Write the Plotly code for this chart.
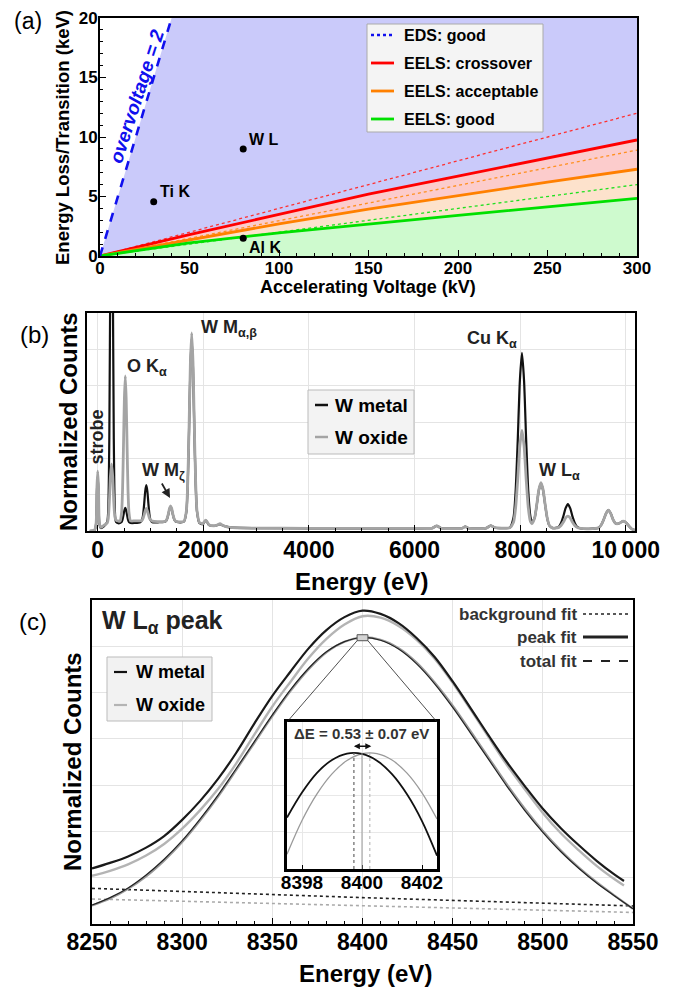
import plotly.graph_objects as go

FONT = "Liberation Sans, Arial, sans-serif"
# the page body adds an 8 px margin; the figure is shifted by that amount and fills the rest of the window
OFF = 8
W, H = 676 - OFF, 989 - OFF

# ---------------- (a) data ----------------
volt = [0, 50, 100, 150, 200, 250, 300]
eels_crossover = [0, 1.79, 3.5, 5.2, 6.72, 8.25, 9.75]
eels_acceptable = [0, 1.38, 2.7, 3.94, 5.1, 6.2, 7.29]
eels_good = [0, 1.1, 1.95, 2.7, 3.41, 4.13, 4.85]
volt_ref = [0, 300]
crossover_ref = [0, 12.0]
acceptable_ref = [0, 8.9]
good_ref = [0, 6.0]
over_v = [0, 40]
over_e = [0, 20]
pt_names = ["Ti K", "W L", "Al K"]
pt_v = [30, 80, 80]
pt_e = [4.55, 9.0, 1.5]

# ---------------- (b) data ----------------
E_b = [-150, -60, -30, -15, 0, 15, 30, 60, 110,
       180, 200, 220, 240, 262, 284, 304, 324, 345, 400,
       422, 452, 470, 487, 505, 522, 539, 557, 574, 592, 622, 700,
       805, 840, 860, 880, 900, 920, 940, 960, 980, 1000, 1035, 1150,
       1258, 1295, 1316, 1338, 1359, 1380, 1401, 1422, 1444, 1465, 1502, 1570,
       1635, 1680, 1705, 1730, 1755, 1780, 1805, 1830, 1855, 1880, 1925,
       1990, 2020, 2045, 2070, 2110, 2200, 2260, 2316, 2370, 2500,
       3000, 4000, 5000, 6000, 6330, 6420, 6510, 6900, 6960, 7030, 7360, 7440, 7530, 7700,
       7805, 7875, 7915, 7955, 7995, 8035, 8075, 8115, 8155, 8195, 8225,
       8275, 8315, 8355, 8395, 8435, 8475, 8515, 8555, 8620,
       8660, 8735, 8775, 8820, 8862, 8905, 8948, 8990, 9035, 9075, 9150,
       9300, 9490, 9535, 9582, 9627, 9672, 9717, 9762, 9807, 9850, 9900, 9950, 10000, 10060, 10120, 10180]
metal_b = [0.0, 0.02, 0.2, 1.1, 1.5, 1.1, 0.22, 0.08, 0.12,
           0.25, 0.6, 2.6, 7.5, 11.0, 7.5, 2.6, 0.6, 0.25, 0.21,
           0.22, 0.245, 0.31, 0.43, 0.57, 0.64, 0.57, 0.43, 0.31, 0.245, 0.22, 0.22,
           0.24, 0.30, 0.45, 0.75, 1.10, 1.26, 1.10, 0.75, 0.45, 0.30, 0.24, 0.24,
           0.25, 0.275, 0.34, 0.46, 0.60, 0.67, 0.60, 0.46, 0.34, 0.275, 0.25, 0.24,
           0.26, 0.54, 1.30, 2.77, 4.48, 5.29, 4.48, 2.77, 1.30, 0.54, 0.22,
           0.19, 0.25, 0.29, 0.25, 0.16, 0.14, 0.16, 0.19, 0.15, 0.10,
           0.08, 0.075, 0.075, 0.075, 0.075, 0.14, 0.075, 0.075, 0.12, 0.075, 0.08, 0.15, 0.09, 0.08,
           0.09, 0.37, 1.09, 2.49, 4.13, 4.90, 4.13, 2.49, 1.09, 0.40, 0.24,
           0.36, 0.71, 1.12, 1.31, 1.12, 0.71, 0.34, 0.15, 0.08,
           0.08, 0.12, 0.22, 0.41, 0.63, 0.74, 0.63, 0.41, 0.22, 0.12, 0.07,
           0.06, 0.09, 0.165, 0.31, 0.48, 0.575, 0.48, 0.31, 0.21, 0.20, 0.23, 0.27, 0.24, 0.14, 0.05, 0.02]
oxide_b = [0.0, 0.03, 0.22, 1.2, 1.65, 1.2, 0.25, 0.10, 0.15,
           0.22, 0.35, 0.8, 1.5, 1.85, 1.5, 0.8, 0.4, 0.3, 0.27,
           0.27, 0.51, 1.11, 2.27, 3.63, 4.27, 3.63, 2.27, 1.11, 0.51, 0.28, 0.28,
           0.28, 0.30, 0.35, 0.45, 0.56, 0.62, 0.56, 0.45, 0.35, 0.30, 0.27, 0.26,
           0.26, 0.285, 0.35, 0.47, 0.62, 0.69, 0.62, 0.47, 0.35, 0.285, 0.26, 0.25,
           0.27, 0.56, 1.34, 2.85, 4.62, 5.45, 4.62, 2.85, 1.34, 0.56, 0.24,
           0.20, 0.26, 0.30, 0.26, 0.17, 0.14, 0.16, 0.20, 0.15, 0.10,
           0.08, 0.075, 0.075, 0.075, 0.075, 0.14, 0.075, 0.075, 0.12, 0.075, 0.08, 0.15, 0.09, 0.08,
           0.09, 0.24, 0.64, 1.42, 2.34, 2.77, 2.34, 1.42, 0.64, 0.26, 0.20,
           0.36, 0.72, 1.14, 1.33, 1.14, 0.72, 0.35, 0.15, 0.08,
           0.08, 0.10, 0.15, 0.245, 0.36, 0.41, 0.36, 0.245, 0.15, 0.10, 0.07,
           0.06, 0.09, 0.165, 0.31, 0.48, 0.575, 0.48, 0.31, 0.21, 0.20, 0.23, 0.27, 0.24, 0.14, 0.05, 0.02]
b_tickvals = [0, 2000, 4000, 6000, 8000, 10000]
b_ticktext = ["0", "2000", "4000", "6000", "8000", "10\u2009000"]

# ---------------- (c) data ----------------
E_c = [8250, 8260, 8270, 8280, 8290, 8300, 8310, 8320, 8330, 8340, 8350, 8360, 8370, 8380, 8390,
       8400, 8410, 8420, 8430, 8440, 8450, 8460, 8470, 8480, 8490, 8500, 8510, 8520, 8530, 8540, 8545]
metal_c = [1.20, 1.32, 1.46, 1.65, 1.90, 2.25, 2.66, 3.14, 3.70, 4.33, 4.93, 5.45, 5.95, 6.35, 6.63,
           6.77, 6.70, 6.50, 6.18, 5.77, 5.24, 4.66, 4.07, 3.50, 2.98, 2.49, 2.07, 1.70, 1.36, 1.06, 0.93]
oxide_c = [1.04, 1.15, 1.29, 1.48, 1.73, 2.06, 2.46, 2.92, 3.47, 4.09, 4.70, 5.23, 5.74, 6.16, 6.47,
           6.65, 6.62, 6.44, 6.14, 5.73, 5.21, 4.63, 4.03, 3.44, 2.91, 2.40, 1.96, 1.59, 1.25, 0.96, 0.83]
E_fit = [8250, 8260, 8270, 8280, 8290, 8300, 8310, 8320, 8330, 8340, 8350, 8360, 8370, 8380, 8390,
         8400, 8410, 8420, 8430, 8440, 8450, 8460, 8470, 8480, 8490, 8500, 8510, 8520, 8530, 8540, 8550]
metal_fit = [0.41, 0.57, 0.78, 1.06, 1.40, 1.80, 2.27, 2.79, 3.36, 3.94, 4.52, 5.06, 5.52, 5.88, 6.10,
             6.19, 6.13, 5.94, 5.62, 5.19, 4.68, 4.12, 3.55, 2.98, 2.45, 1.98, 1.56, 1.20, 0.88, 0.60, 0.33]
oxide_fit = [0.40, 0.55, 0.76, 1.03, 1.37, 1.77, 2.24, 2.76, 3.33, 3.91, 4.49, 5.03, 5.50, 5.87, 6.10,
             6.19, 6.14, 5.96, 5.65, 5.22, 4.72, 4.16, 3.59, 3.02, 2.49, 2.01, 1.59, 1.22, 0.90, 0.61, 0.33]
E_bg = [8250, 8400, 8550]
metal_bg = [0.77, 0.57, 0.39]
oxide_bg = [0.54, 0.39, 0.25]

# inset
E_in = [8397.5, 8398.0, 8398.5, 8399.0, 8399.5, 8400.0, 8400.5, 8401.0, 8401.5, 8402.0, 8402.5]
metal_in = [0.35, 0.52, 0.654, 0.742, 0.785, 0.783, 0.737, 0.645, 0.508, 0.326, 0.09]
oxide_in = [0.10, 0.33, 0.511, 0.647, 0.738, 0.784, 0.785, 0.741, 0.652, 0.518, 0.34]
peak_metal = 8399.73
peak_oxide = 8400.26
peak_top = 0.79


def px(x):
    return (x - OFF) / W


def py(y):
    return 1 - (y - OFF) / H


XD1, YD1 = [px(100), px(637)], [py(256), py(18)]
XD2, YD2 = [px(87), px(635)], [py(531), py(313)]
XD3, YD3 = [px(92), px(633)], [py(924), py(600)]
XD4, YD4 = [px(287), px(437)], [py(869), py(722)]
XR1, YR1 = [0, 300], [0, 20]
XR2, YR2 = [-203, 10176], [0, 6]
XR3, YR3 = [8250, 8550], [0, 7]
XR4, YR4 = [8397.5, 8402.5], [0, 1]


def tf(size):
    return dict(family=FONT, size=size, color="black", weight="bold")


fig = go.Figure()

# ---- (a) fills ----
fills = [
    (over_v + [XR1[1]] + volt[::-1], over_e + [YR1[1]] + eels_crossover[::-1], "rgb(202,202,250)"),
    (volt + volt[::-1], eels_crossover + eels_acceptable[::-1], "rgb(252,204,204)"),
    (volt + volt[::-1], eels_acceptable + eels_good[::-1], "rgb(253,226,204)"),
    (volt + [XR1[1], 0], eels_good + [0, 0], "rgb(206,250,206)"),
]
for fx, fy, col in fills:
    fig.add_trace(go.Scatter(x=fx, y=fy, fill="toself", fillcolor=col, mode="lines",
                             line=dict(width=0), showlegend=False, hoverinfo="skip",
                             xaxis="x", yaxis="y"))

for ry, col in [(crossover_ref, "#ff3030"), (acceptable_ref, "#ff9020"), (good_ref, "#20e020")]:
    fig.add_trace(go.Scatter(x=volt_ref, y=ry, mode="lines", line=dict(color=col, width=1.3, dash="dot"),
                             showlegend=False, xaxis="x", yaxis="y"))
for ry, col in [(eels_crossover, "#ff0000"), (eels_acceptable, "#ff8000"), (eels_good, "#00e000")]:
    fig.add_trace(go.Scatter(x=volt, y=ry, mode="lines", line=dict(color=col, width=2.8),
                             showlegend=False, xaxis="x", yaxis="y"))
fig.add_trace(go.Scatter(x=over_v, y=over_e, mode="lines", line=dict(color="#1010ee", width=2.6, dash="dash"),
                         showlegend=False, xaxis="x", yaxis="y"))
fig.add_trace(go.Scatter(x=pt_v, y=pt_e, mode="markers", marker=dict(color="black", size=7),
                         showlegend=False, xaxis="x", yaxis="y"))

# ---- (b) ----
fig.add_trace(go.Scatter(x=E_b, y=metal_b, mode="lines", line=dict(color="#111111", width=2.2, shape="spline", smoothing=0.6),
                         showlegend=False, xaxis="x2", yaxis="y2"))
fig.add_trace(go.Scatter(x=E_b, y=oxide_b, mode="lines", line=dict(color="#a4a4a4", width=2.8, shape="spline", smoothing=0.6),
                         showlegend=False, xaxis="x2", yaxis="y2"))

# ---- (c) ----
fig.add_trace(go.Scatter(x=E_bg, y=metal_bg, mode="lines", line=dict(color="#222222", width=1.6, dash="dot"),
                         showlegend=False, xaxis="x3", yaxis="y3"))
fig.add_trace(go.Scatter(x=E_bg, y=oxide_bg, mode="lines", line=dict(color="#aaaaaa", width=1.6, dash="dot"),
                         showlegend=False, xaxis="x3", yaxis="y3"))
fig.add_trace(go.Scatter(x=E_fit, y=oxide_fit, mode="lines", line=dict(color="#9a9a9a", width=2.2, shape="spline"),
                         showlegend=False, xaxis="x3", yaxis="y3"))
fig.add_trace(go.Scatter(x=E_fit, y=metal_fit, mode="lines", line=dict(color="#222222", width=1.2, shape="spline"),
                         showlegend=False, xaxis="x3", yaxis="y3"))
fig.add_trace(go.Scatter(x=E_c, y=oxide_c, mode="lines", line=dict(color="#b4b4b4", width=2.4, shape="spline"),
                         showlegend=False, xaxis="x3", yaxis="y3"))
fig.add_trace(go.Scatter(x=E_c, y=metal_c, mode="lines", line=dict(color="#1a1a1a", width=2.2, shape="spline"),
                         showlegend=False, xaxis="x3", yaxis="y3"))

# ---- inset ----
fig.add_trace(go.Scatter(x=E_in, y=oxide_in, mode="lines", line=dict(color="#9a9a9a", width=1.3, shape="spline"),
                         showlegend=False, xaxis="x4", yaxis="y4"))
fig.add_trace(go.Scatter(x=E_in, y=metal_in, mode="lines", line=dict(color="#111111", width=1.8, shape="spline"),
                         showlegend=False, xaxis="x4", yaxis="y4"))

axis_common = dict(showline=True, linecolor="black", linewidth=2, mirror=True, zeroline=False,
                   ticks="inside", tickcolor="black", tickwidth=1.2, automargin=False)

fig.update_layout(
    width=W, height=H, margin=dict(l=0, r=0, t=0, b=0, autoexpand=False),
    paper_bgcolor="white", plot_bgcolor="white",
    font=dict(family=FONT, color="black"),
    showlegend=False,
    xaxis=dict(domain=XD1, range=XR1, anchor="y", tickvals=[0, 50, 100, 150, 200, 250, 300],
               tickfont=tf(17), ticklen=6, showgrid=False, ticklabelstandoff=-4,
               minor=dict(ticks="inside", ticklen=3, dtick=10, tickcolor="black", showgrid=False),
               **axis_common),
    yaxis=dict(domain=YD1, range=YR1, anchor="x", tickvals=[0, 5, 10, 15, 20],
               tickfont=tf(17), ticklen=6, showgrid=False, ticklabelstandoff=-3,
               minor=dict(ticks="inside", ticklen=3, dtick=1, tickcolor="black", showgrid=False),
               **axis_common),
    xaxis2=dict(domain=XD2, range=XR2, anchor="y2", tickmode="array", tickvals=b_tickvals, ticktext=b_ticktext,
                tickfont=tf(23), ticklen=6, showgrid=True, gridcolor="#e4e4e4", ticklabelstandoff=-3,
                minor=dict(ticks="inside", ticklen=3, tickvals=[500 * i for i in range(1, 21) if i % 4], tickcolor="black", showgrid=False),
                **axis_common),
    yaxis2=dict(domain=YD2, range=YR2, anchor="x2", dtick=1, showticklabels=False, ticklen=0,
                showgrid=True, gridcolor="#e4e4e4", **axis_common),
    xaxis3=dict(domain=XD3, range=XR3, anchor="y3", tickvals=[8250, 8300, 8350, 8400, 8450, 8500, 8550],
                tickfont=tf(23), ticklen=6, showgrid=True, gridcolor="#e4e4e4", ticklabelstandoff=-4,
                minor=dict(ticks="inside", ticklen=3, dtick=10, tickcolor="black", showgrid=False),
                **axis_common),
    yaxis3=dict(domain=YD3, range=YR3, anchor="x3", dtick=1, showticklabels=False, ticklen=0,
                showgrid=True, gridcolor="#e4e4e4", **axis_common),
    xaxis4=dict(domain=XD4, range=XR4, anchor="y4", tickvals=[8398, 8400, 8402],
                tickfont=tf(19), ticklen=4, showgrid=True, gridcolor="#e8e8e8", ticklabelstandoff=-6,
                showline=True, linecolor="black", linewidth=2.5, mirror=True, zeroline=False,
                ticks="inside", tickcolor="black", automargin=False),
    yaxis4=dict(domain=YD4, range=YR4, anchor="x4", tick0=0.245, dtick=0.255, showticklabels=False,
                showgrid=True, gridcolor="#e8e8e8", ticks="", automargin=False,
                showline=True, linecolor="black", linewidth=2.5, mirror=True, zeroline=False),
)

ann = []
shapes = []


def text(x, y, s, size, bold=True, color="black", xanchor="center", yanchor="middle", angle=0, italic=False):
    f = dict(family=FONT, size=size, color=color, weight="bold" if bold else "normal")
    if italic:
        f["style"] = "italic"
    ann.append(dict(x=x, y=y, xref="paper", yref="paper", text=s, showarrow=False, font=f,
                    xanchor=xanchor, yanchor=yanchor, textangle=angle, borderpad=0))


# panel labels
text(px(28), py(21), "(a)", 23, bold=False)
text(px(34), py(335), "(b)", 24, bold=False)
text(px(33), py(621), "(c)", 24, bold=False)

# axis titles
text(px(368), py(287), "Accelerating Voltage (kV)", 18)
text(px(62), py(138), "Energy Loss/Transition (keV)", 18.5, angle=-90)
text(px(361), py(581), "Energy (eV)", 24)
text(px(68), py(422), "Normalized Counts", 24, angle=-90)
text(px(365), py(973), "Energy (eV)", 24)
text(px(72), py(762), "Normalized Counts", 24, angle=-90)

# (a) annotations
text(px(137), py(97), "overvoltage = 2", 19, color="#1010ee", angle=-72, italic=True)
shifts = [(4, 10), (4, 9), (4, -9)]
for name, v, e, (dx, dy) in zip(pt_names, pt_v, pt_e, shifts):
    ann.append(dict(x=v, y=e, xref="x", yref="y", text=name, showarrow=False, xanchor="left",
                    yanchor="middle", xshift=dx, yshift=dy, font=tf(16)))

# (a) legend
shapes.append(dict(type="rect", xref="paper", yref="paper", x0=px(367), x1=px(543), y0=py(132), y1=py(24),
                   fillcolor="#f4f4f4", line=dict(color="#aaaaaa", width=1)))
leg_a = [("EDS: good", "#1010ee", "dot"), ("EELS: crossover", "#ff0000", "solid"),
         ("EELS: acceptable", "#ff8000", "solid"), ("EELS: good", "#00e000", "solid")]
for i, (lab, col, dash) in enumerate(leg_a):
    yy = 35 + 28 * i
    shapes.append(dict(type="line", xref="paper", yref="paper", x0=px(371), x1=px(394), y0=py(yy), y1=py(yy),
                       line=dict(color=col, width=2.8 if dash == "solid" else 2.4, dash=dash)))
    text(px(403), py(yy), lab, 16, xanchor="left")

# (b) legend
shapes.append(dict(type="rect", xref="paper", yref="paper", x0=px(308), x1=px(414), y0=py(454), y1=py(390),
                   fillcolor="#f3f3f3", line=dict(color="#bbbbbb", width=1)))
for yy, col, lab in [(405, "#111111", "W metal"), (437, "#a4a4a4", "W oxide")]:
    shapes.append(dict(type="line", xref="paper", yref="paper", x0=px(315), x1=px(328), y0=py(yy), y1=py(yy),
                       line=dict(color=col, width=2.5)))
    text(px(334), py(yy), lab, 19, xanchor="left")

# (b) peak labels
lab_col = "#222222"
for x, y, s in [(517, 4.5, "O K<sub>α</sub>"), (1919, 5.56, "W M<sub>α,β</sub>"), (801, 1.65, "W M<sub>ζ</sub>"),
                (6956, 5.26, "Cu K<sub>α</sub>"), (8314, 1.64, "W L<sub>α</sub>")]:
    ann.append(dict(x=x, y=y, xref="x2", yref="y2", text=s, showarrow=False, xanchor="left", yanchor="middle",
                    font=dict(family=FONT, size=18, color=lab_col, weight="bold")))
ann.append(dict(x=-15, y=2.6, xref="x2", yref="y2", text="strobe", showarrow=False, textangle=-90,
                font=dict(family=FONT, size=18, color=lab_col, weight="bold")))
ann.append(dict(x=1369, y=0.91, ax=1199, ay=1.35, xref="x2", yref="y2", axref="x2", ayref="y2", text="",
                showarrow=True, arrowhead=2, arrowsize=1, arrowwidth=1.8, arrowcolor="#222222"))

# (c) texts
text(px(101), py(622), "W L<sub>α</sub> peak", 25, color="#222222", xanchor="left")
shapes.append(dict(type="rect", xref="paper", yref="paper", x0=px(107), x1=px(212), y0=py(721), y1=py(657),
                   fillcolor="#f2f2f2", line=dict(color="#bbbbbb", width=1)))
for yy, col, lab in [(672, "#111111", "W metal"), (705, "#b4b4b4", "W oxide")]:
    shapes.append(dict(type="line", xref="paper", yref="paper", x0=px(114), x1=px(127), y0=py(yy), y1=py(yy),
                       line=dict(color=col, width=2.2)))
    text(px(135), py(yy), lab, 18, xanchor="left")

for yy, lab, dash, wdt in [(614, "background fit", "dot", 1.4), (637, "peak fit", "solid", 3), (661, "total fit", "dash", 2.2)]:
    text(px(578), py(yy), lab, 17, color="#333333", xanchor="right")
    shapes.append(dict(type="line", xref="paper", yref="paper", x0=px(583), x1=px(628), y0=py(yy), y1=py(yy),
                       line=dict(color="#222222", width=wdt, dash=dash)))


# zoom rectangle and connectors
def x3p(x):
    return XD3[0] + (x - XR3[0]) / (XR3[1] - XR3[0]) * (XD3[1] - XD3[0])


def y3p(y):
    return YD3[0] + (y - YR3[0]) / (YR3[1] - YR3[0]) * (YD3[1] - YD3[0])


rx0, rx1, ry0, ry1 = 8397, 8403, 6.12, 6.25
shapes.append(dict(type="rect", xref="x3", yref="y3", x0=rx0, x1=rx1, y0=ry0, y1=ry1,
                   fillcolor="#d4d4d4", line=dict(color="#555555", width=1), layer="above"))
shapes.append(dict(type="line", xref="paper", yref="paper", x0=x3p(rx0), y0=y3p(ry0), x1=XD4[0], y1=YD4[1],
                   line=dict(color="#222222", width=0.8)))
shapes.append(dict(type="line", xref="paper", yref="paper", x0=x3p(rx1), y0=y3p(ry0), x1=XD4[1], y1=YD4[1],
                   line=dict(color="#222222", width=0.8)))

# inset markers
shapes.append(dict(type="line", xref="x4", yref="y4", x0=peak_metal, x1=peak_metal, y0=0, y1=peak_top,
                   line=dict(color="#666666", width=1.2, dash="dot")))
shapes.append(dict(type="line", xref="x4", yref="y4", x0=8400, x1=8400, y0=0, y1=peak_top,
                   line=dict(color="#999999", width=1)))
shapes.append(dict(type="line", xref="x4", yref="y4", x0=peak_oxide, x1=peak_oxide, y0=0, y1=peak_top,
                   line=dict(color="#bbbbbb", width=1.2, dash="dot")))
ann.append(dict(x=peak_oxide + 0.05, y=0.835, ax=peak_metal - 0.05, ay=0.835, xref="x4", yref="y4", axref="x4", ayref="y4",
                text="", showarrow=True, arrowhead=2, arrowside="end+start", arrowsize=0.8, arrowwidth=1.5,
                arrowcolor="#111111"))
text(px(361), py(733), "ΔE = 0.53 ± 0.07 eV", 15, color="#333333")

fig.update_layout(annotations=ann, shapes=shapes)
fig.write_html("out.html")
